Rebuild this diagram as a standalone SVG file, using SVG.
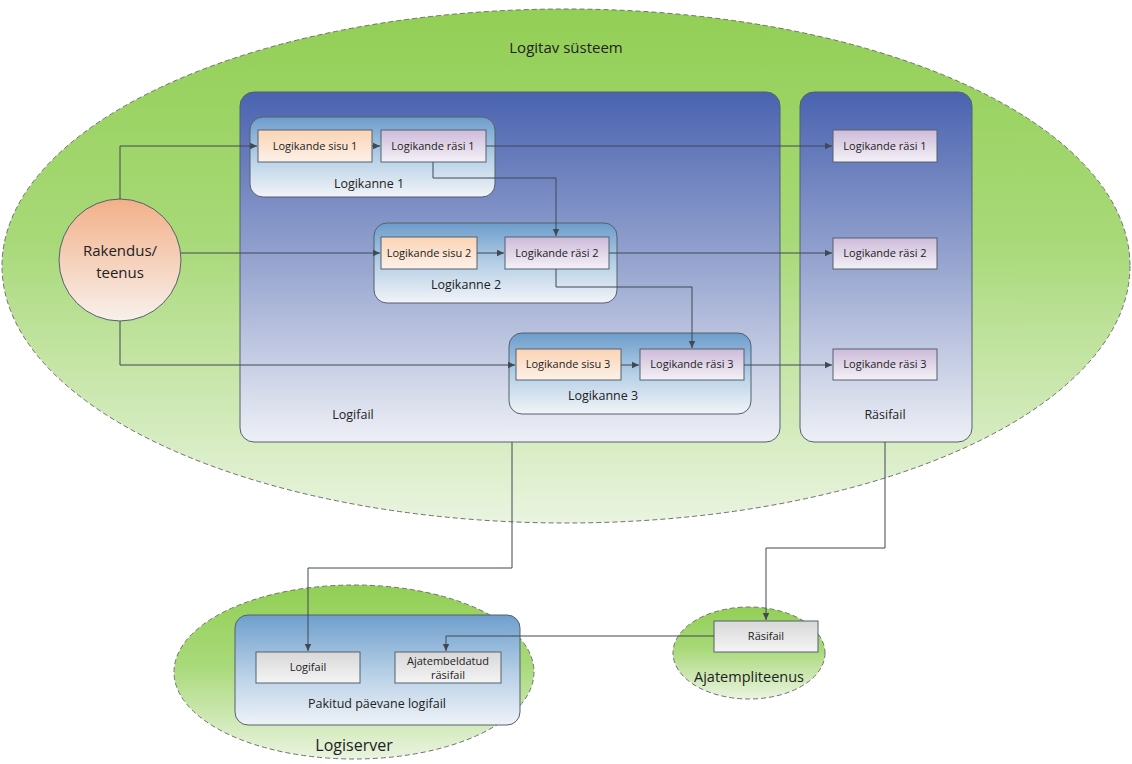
<svg xmlns="http://www.w3.org/2000/svg" width="1132" height="764" viewBox="0 0 1132 764">
<defs>
<linearGradient id="gGreen" x1="0" y1="0" x2="0" y2="1"><stop offset="0" stop-color="#92cf55"/><stop offset="0.45" stop-color="#a8d978"/><stop offset="1" stop-color="#eaf4e0"/></linearGradient>
<linearGradient id="gPanel" x1="0" y1="0" x2="0" y2="1"><stop offset="0" stop-color="#4a63b0"/><stop offset="0.5" stop-color="#98a6d0"/><stop offset="1" stop-color="#eef0f6"/></linearGradient>
<linearGradient id="gEntry" x1="0" y1="0" x2="0" y2="1"><stop offset="0" stop-color="#6c9ccb"/><stop offset="0.5" stop-color="#b5cfe6"/><stop offset="1" stop-color="#f2f4f8"/></linearGradient>
<linearGradient id="gPak" x1="0" y1="0" x2="0" y2="1"><stop offset="0" stop-color="#6f9fcd"/><stop offset="0.55" stop-color="#b9d1e7"/><stop offset="1" stop-color="#eef2f7"/></linearGradient>
<linearGradient id="gOrange" x1="0" y1="0" x2="0" y2="1"><stop offset="0" stop-color="#fad4b4"/><stop offset="1" stop-color="#fdf1e8"/></linearGradient>
<linearGradient id="gPurple" x1="0" y1="0" x2="0" y2="1"><stop offset="0" stop-color="#cdbbd9"/><stop offset="1" stop-color="#f4f1f7"/></linearGradient>
<linearGradient id="gGrey" x1="0" y1="0" x2="0" y2="1"><stop offset="0" stop-color="#d8d8d8"/><stop offset="1" stop-color="#f4f4f4"/></linearGradient>
<linearGradient id="gCircle" x1="0" y1="0" x2="0" y2="1"><stop offset="0" stop-color="#f2b088"/><stop offset="1" stop-color="#f8f1ec"/></linearGradient>
<marker id="arr" markerWidth="8" markerHeight="8" refX="7" refY="4" orient="auto" markerUnits="userSpaceOnUse"><path d="M0,0.8 L7,4 L0,7.2 z" fill="#404a55"/></marker>
<style>
.ell{stroke:#707070;stroke-width:1;stroke-dasharray:5,3;fill:url(#gGreen)}
.panel{fill:url(#gPanel);stroke:#55606e;stroke-width:1}
.entry{fill:url(#gEntry);stroke:#55606e;stroke-width:1}
.or{fill:url(#gOrange);stroke:#55606e;stroke-width:1}
.pu{fill:url(#gPurple);stroke:#55606e;stroke-width:1}
.gr{fill:url(#gGrey);stroke:#55606e;stroke-width:1}
text{font-family:"Open Sans","Liberation Sans",sans-serif;fill:#222;text-anchor:middle}
.s{font-size:11px}
.m{font-size:12.5px}
.l{font-size:15px}
.c{fill:none;stroke:#3e4955;stroke-width:1;marker-end:url(#arr)}
</style>
</defs>
<rect width="1132" height="764" fill="#fff"/>
<g id="logitav">
<ellipse class="ell" cx="566" cy="266" rx="564" ry="257"/>
<text class="l" x="566" y="53">Logitav süsteem</text>
</g>
<g id="logiserver">
<ellipse class="ell" cx="354" cy="672" rx="180" ry="87"/>
<text x="354" y="751" style="font-size:16px">Logiserver</text>
</g>
<g id="ajatempliteenus">
<ellipse class="ell" cx="749" cy="653" rx="76" ry="46"/>
<text x="749" y="682" style="font-size:14.5px">Ajatempliteenus</text>
</g>
<g id="logifail">
<rect class="panel" x="240" y="92" width="540" height="350" rx="14"/>
<text class="m" x="353" y="419">Logifail</text>
</g>
<g id="rasifail">
<rect class="panel" x="800" y="92" width="172" height="350" rx="14"/>
<text class="m" x="885" y="419">Räsifail</text>
</g>
<g id="logikanne1">
<rect class="entry" x="250" y="117" width="245" height="80" rx="13"/>
<text class="m" x="369" y="188">Logikanne 1</text>
</g>
<g id="logikanne2">
<rect class="entry" x="374" y="223" width="243" height="80" rx="13"/>
<text class="m" x="466" y="289">Logikanne 2</text>
</g>
<g id="logikanne3">
<rect class="entry" x="509" y="333" width="242" height="81" rx="13"/>
<text class="m" x="603" y="400">Logikanne 3</text>
</g>
<g id="sisu1"><rect class="or" x="258" y="130" width="114" height="32"/><text class="s" x="315" y="150">Logikande sisu 1</text></g>
<g id="rasi1"><rect class="pu" x="381" y="130" width="105" height="32"/><text class="s" x="433" y="150">Logikande räsi 1</text></g>
<g id="sisu2"><rect class="or" x="381" y="237" width="96" height="32"/><text class="s" x="429" y="257">Logikande sisu 2</text></g>
<g id="rasi2"><rect class="pu" x="505" y="237" width="104" height="32"/><text class="s" x="557" y="257">Logikande räsi 2</text></g>
<g id="sisu3"><rect class="or" x="516" y="349" width="105" height="31"/><text class="s" x="568" y="368">Logikande sisu 3</text></g>
<g id="rasi3"><rect class="pu" x="640" y="349" width="104" height="31"/><text class="s" x="692" y="368">Logikande räsi 3</text></g>
<g id="hr1"><rect class="pu" x="833" y="130" width="104" height="32"/><text class="s" x="885" y="150">Logikande räsi 1</text></g>
<g id="hr2"><rect class="pu" x="833" y="238" width="104" height="31"/><text class="s" x="885" y="257">Logikande räsi 2</text></g>
<g id="hr3"><rect class="pu" x="833" y="349" width="104" height="31"/><text class="s" x="885" y="368">Logikande räsi 3</text></g>
<g id="rakendus">
<circle cx="120" cy="260" r="61" fill="url(#gCircle)" stroke="#55606e" stroke-width="1"/>
<text class="l" x="120" y="256">Rakendus/</text>
<text class="l" x="120" y="278">teenus</text>
</g>
<g id="pakitud">
<rect class="entry" x="235" y="615" width="285" height="110" rx="13" style="fill:url(#gPak)"/>
<text class="m" x="377" y="708">Pakitud päevane logifail</text>
</g>
<g id="logifail2"><rect class="gr" x="256" y="652" width="104" height="31"/><text class="s" x="308" y="671">Logifail</text></g>
<g id="ajatembeldatud"><rect class="gr" x="395" y="652" width="106" height="31"/><text class="s" x="448" y="665">Ajatembeldatud</text><text class="s" x="448" y="679">räsifail</text></g>
<g id="rasifail2"><rect class="gr" x="714" y="621" width="104" height="31"/><text class="s" x="766" y="640">Räsifail</text></g>
<g id="connectors">
<path class="c" d="M120,199 V146 H257"/>
<path class="c" d="M181,253 H380"/>
<path class="c" d="M120,321 V365 H515"/>
<path class="c" d="M372,146 H380"/>
<path class="c" d="M477,253 H504"/>
<path class="c" d="M621,365 H639"/>
<path class="c" d="M486,146 H832"/>
<path class="c" d="M609,253 H832"/>
<path class="c" d="M744,365 H832"/>
<path class="c" d="M433,162 V178 H556 V236"/>
<path class="c" d="M556,269 V287 H692 V348"/>
<path class="c" d="M512,442 V568 H308 V651"/>
<path class="c" d="M885,442 V548 H766 V620"/>
<path class="c" d="M714,636 H446 V651"/>
</g>
</svg>
